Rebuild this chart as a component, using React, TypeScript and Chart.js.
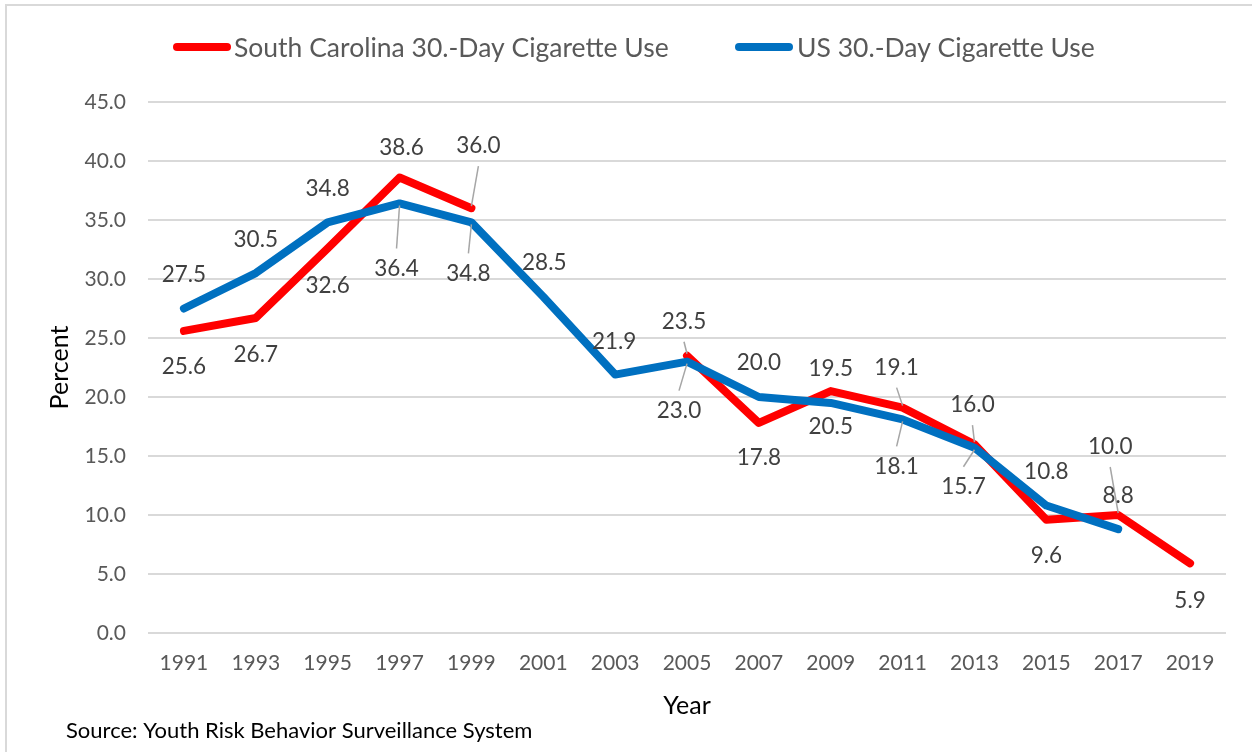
import React, { useEffect, useRef } from "react";
import { Chart, registerables } from "chart.js";

Chart.register(...registerables);

const FONT = "Lato";

const years = ["1991", "1993", "1995", "1997", "1999", "2001", "2003", "2005", "2007", "2009", "2011", "2013", "2015", "2017", "2019"];
const scValues: (number | null)[] = [25.6, 26.7, 32.6, 38.6, 36.0, null, null, 23.5, 17.8, 20.5, 19.1, 16.0, 9.6, 10.0, 5.9];
const usValues: (number | null)[] = [27.5, 30.5, 34.8, 36.4, 34.8, 28.5, 21.9, 23.0, 20.0, 19.5, 18.1, 15.7, 10.8, 8.8, null];
const yTicks = [0, 5, 10, 15, 20, 25, 30, 35, 40, 45];

const scName = "South Carolina 30.-Day Cigarette Use";
const usName = "US 30.-Day Cigarette Use";
const sourceNote = "Source: Youth Risk Behavior Surveillance System";

// Label placement per point: [dx, dy, leader line?]
const scLabelPlacement: [number, number, boolean][] = [
  [0, 36, false], [0, 37, false], [0, 37, false], [2, -30, false], [7, -62, true],
  [0, 0, false], [0, 0, false], [-3, -34, true], [0, 35, false], [0, 36, false],
  [-6, -40, true], [-2, -39, true], [0, 36, false], [-8, -68, true], [0, 37, false],
];
const usLabelPlacement: [number, number, boolean][] = [
  [0, -34, false], [0, -33, false], [0, -34, false], [-3, 65, true], [-3, 51, true],
  [1, -34, false], [-1, -33, false], [-8, 49, true], [0, -34, false], [0, -34, false],
  [-6, 47, true], [-11, 39, true], [0, -34, false], [0, -33, false], [0, 0, false],
];

const pointLabels = {
  id: "pointLabels",
  afterDatasetsDraw(chart: any) {
    const ctx = chart.ctx as CanvasRenderingContext2D;
    const placements = [scLabelPlacement, usLabelPlacement];
    ctx.save();
    ctx.font = `22.5px ${FONT}`;
    ctx.textAlign = "center";
    ctx.textBaseline = "middle";
    chart.data.datasets.forEach((ds: any, di: number) => {
      const meta = chart.getDatasetMeta(di);
      meta.data.forEach((pt: any, i: number) => {
        const v = ds.data[i];
        if (v == null) return;
        const [dx, dy, leader] = placements[di][i];
        const lx = pt.x + dx;
        const ly = pt.y + dy;
        if (leader) {
          const dir = dy > 0 ? -1 : 1;
          ctx.strokeStyle = "#a6a6a6";
          ctx.lineWidth = 1.5;
          ctx.beginPath();
          ctx.moveTo(lx, ly + dir * 20);
          ctx.lineTo(pt.x, pt.y - dir * 2);
          ctx.stroke();
        }
        ctx.fillStyle = "#404040";
        ctx.fillText(v.toFixed(1), lx, ly);
      });
    });
    ctx.restore();
  },
};

const legendAndNote = {
  id: "legendAndNote",
  afterDraw(chart: any) {
    const ctx = chart.ctx as CanvasRenderingContext2D;
    ctx.save();
    const items = [
      { x0: 177, x1: 227, tx: 234, color: "#FF0000", text: scName },
      { x0: 739, x1: 789, tx: 797, color: "#0070C0", text: usName },
    ];
    ctx.font = `26.5px ${FONT}`;
    ctx.textBaseline = "middle";
    ctx.textAlign = "left";
    items.forEach((it) => {
      ctx.strokeStyle = it.color;
      ctx.lineWidth = 8;
      ctx.lineCap = "round";
      ctx.beginPath();
      ctx.moveTo(it.x0, 47);
      ctx.lineTo(it.x1, 47);
      ctx.stroke();
      ctx.fillStyle = "#595959";
      ctx.fillText(it.text, it.tx, 48);
    });
    ctx.font = `22px ${FONT}`;
    ctx.fillStyle = "#000000";
    ctx.fillText(sourceNote, 66, 731);
    ctx.restore();
  },
};

export default function App() {
  const canvasRef = useRef<HTMLCanvasElement | null>(null);

  useEffect(() => {
    if (!canvasRef.current) return;
    Chart.defaults.font.family = FONT;
    const chart = new Chart(canvasRef.current, {
      type: "line",
      data: {
        labels: years,
        datasets: [
          {
            label: scName,
            data: scValues,
            borderColor: "#FF0000",
            backgroundColor: "#FF0000",
            borderWidth: 8,
            borderCapStyle: "round",
            borderJoinStyle: "round",
            pointRadius: 0,
            tension: 0,
            spanGaps: false,
            order: 1,
          },
          {
            label: usName,
            data: usValues,
            borderColor: "#0070C0",
            backgroundColor: "#0070C0",
            borderWidth: 8,
            borderCapStyle: "round",
            borderJoinStyle: "round",
            pointRadius: 0,
            tension: 0,
            spanGaps: false,
            order: 0,
          },
        ],
      },
      options: {
        responsive: false,
        animation: false,
        devicePixelRatio: 1,
        layout: { padding: { left: 0, top: 102, right: 26, bottom: 19 } },
        plugins: {
          legend: { display: false },
          tooltip: { enabled: false },
        },
        scales: {
          x: {
            offset: true,
            grid: { display: false, drawTicks: false },
            border: { display: false },
            ticks: { color: "#595959", font: { size: 21 }, padding: 18, maxRotation: 0, autoSkip: false },
            title: { display: true, text: "Year", color: "#000000", font: { size: 25 }, padding: { top: 0, bottom: 12 } },
            afterFit(scale: any) {
              scale.height = 100;
            },
          },
          y: {
            min: 0,
            max: 45,
            afterBuildTicks(scale: any) {
              scale.ticks = yTicks.map((v) => ({ value: v }));
            },
            grid: { color: "#d9d9d9", lineWidth: 2, drawTicks: false },
            border: { display: false },
            ticks: {
              color: "#595959",
              font: { size: 21 },
              padding: 22,
              callback: (v: any) => Number(v).toFixed(1),
            },
            title: { display: true, text: "Percent", color: "#000000", font: { size: 25 }, padding: { top: 45, bottom: 0 } },
            afterFit(scale: any) {
              scale.width = 148;
            },
          },
        },
      },
      plugins: [pointLabels, legendAndNote],
    });
    return () => chart.destroy();
  }, []);

  return (
    <div style={{ position: "fixed", left: 0, top: 0, width: 1252, height: 752, overflow: "hidden", background: "#ffffff" }}>
      <div style={{ position: "absolute", left: 5, top: 4, width: 1300, height: 800, border: "2px solid #d9d9d9" }} />
      <canvas ref={canvasRef} width={1252} height={752} style={{ position: "absolute", left: 0, top: 0 }} />
    </div>
  );
}
